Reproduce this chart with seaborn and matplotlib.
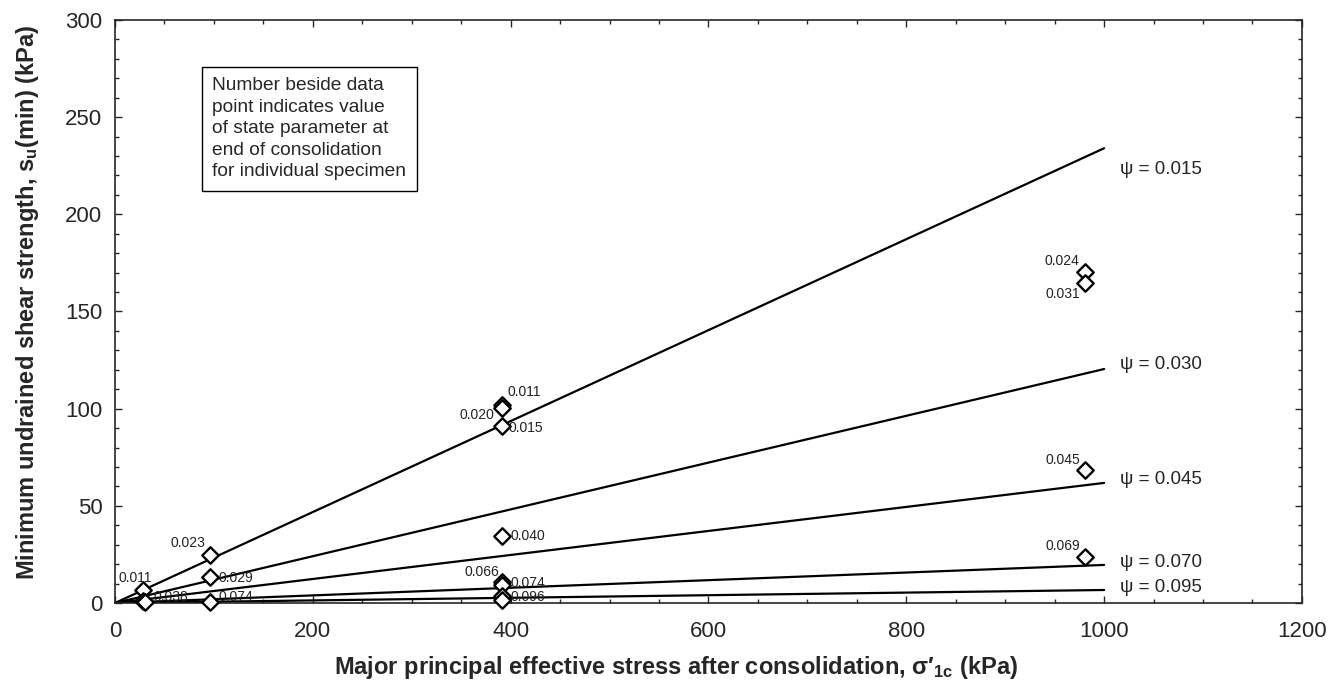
import numpy as np
import pandas as pd
import seaborn as sns
import matplotlib.pyplot as plt
from matplotlib.ticker import MultipleLocator

# trend lines: su(min) at sigma'1c = 0 and 1000 kPa
psi_values = ["0.015", "0.030", "0.045", "0.070", "0.095"]
line_x = [0, 1000]
line_su_end = [234.0, 120.4, 61.8, 19.6, 6.7]
line_label_y = [222.9, 122.5, 63.8, 20.6, 8.2]

# specimens
pt_sigma = [28, 28, 30,
            96, 96, 96,
            391, 391, 391, 391, 391, 391, 391, 391,
            981, 981, 981, 981]
pt_su = [6.5, 1.2, 0.3,
         24.7, 13.5, 0.3,
         102.0, 100.5, 91.0, 34.6, 10.8, 9.5, 3.6, 1.5,
         170.5, 164.7, 68.4, 23.8]
pt_label = ["0.011", "0.038", "",
            "0.023", "0.029", "0.074",
            "0.011", "0.020", "0.015", "0.040", "0.066", "0.074", "0.096", "",
            "0.024", "0.031", "0.045", "0.069"]
# label offsets (points) and alignment
pt_dx = [-5, 8, 0, -3, 6, 6, 4, -5, 5, 6, -2, 6, 6, 0, -4, -4, -4, -4]
pt_dy = [9, 3, 0, 9, -1, 4, 9, -5, -1, 0, 7, 1, -1, 0, 8, -8, 7, 8]
pt_ha = ["center", "left", "left", "right", "left", "left", "left", "right",
         "left", "left", "right", "left", "left", "left",
         "right", "right", "right", "right"]

sns.set_style("ticks")
plt.rcParams["font.family"] = ["Liberation Sans", "DejaVu Sans"]
plt.rcParams["mathtext.fontset"] = "custom"
plt.rcParams["mathtext.rm"] = "Liberation Sans"
plt.rcParams["mathtext.it"] = "Liberation Sans:italic"
plt.rcParams["mathtext.bf"] = "Liberation Sans:bold"

lines = pd.DataFrame({
    "sigma": np.tile(line_x, len(psi_values)),
    "su": np.ravel([[0.0, s] for s in line_su_end]),
    "psi": np.repeat(psi_values, 2),
})
pts = pd.DataFrame({"sigma": pt_sigma, "su": pt_su, "label": pt_label})

fig = plt.figure(figsize=(13.4, 6.84), dpi=100)
ax = fig.add_axes([0.0858, 0.1184, 0.8858, 0.8524])

sns.lineplot(data=lines, x="sigma", y="su", units="psi", estimator=None,
             color="black", linewidth=1.6, ax=ax)
sns.scatterplot(data=pts, x="sigma", y="su", marker="D", s=70,
                facecolor="white", edgecolor="black", linewidth=1.7,
                ax=ax, zorder=3, clip_on=False)

for i, row in pts.iterrows():
    if row["label"]:
        ax.annotate(row["label"], (row["sigma"], row["su"]),
                    xytext=(pt_dx[i], pt_dy[i]), textcoords="offset points",
                    ha=pt_ha[i], va="center", fontsize=10, color="#222222")

for p, y in zip(psi_values, line_label_y):
    ax.text(1016, y, f"ψ = {p}", fontsize=13.5, va="center", ha="left")

ax.text(0.082, 0.902,
        "Number beside data\npoint indicates value\nof state parameter at\n"
        "end of consolidation\nfor individual specimen",
        transform=ax.transAxes, fontsize=13.8, va="top", ha="left",
        linespacing=1.35,
        bbox=dict(boxstyle="square,pad=0.55", facecolor="white",
                  edgecolor="black", linewidth=1.0))

ax.set_xlim(0, 1200)
ax.set_ylim(0, 300)
ax.xaxis.set_major_locator(MultipleLocator(200))
ax.xaxis.set_minor_locator(MultipleLocator(50))
ax.yaxis.set_major_locator(MultipleLocator(50))
ax.yaxis.set_minor_locator(MultipleLocator(10))
ax.tick_params(which="both", direction="in", top=True, right=True,
               labelsize=16, width=1.0)
ax.tick_params(which="major", length=5)
ax.tick_params(which="minor", length=3)
ax.tick_params(axis="x", pad=13)
ax.tick_params(axis="y", pad=9)
for s in ax.spines.values():
    s.set_linewidth(1.2)
    s.set_visible(True)

ax.set_xlabel(r"Major principal effective stress after consolidation, σ′$_{\mathbf{1c}}$ (kPa)",
              fontsize=17, fontweight="bold")
ax.set_ylabel(r"Minimum undrained shear strength, s$_{\mathbf{u}}$(min) (kPa)",
              fontsize=17, fontweight="bold")
ax.xaxis.set_label_coords(0.4726, -0.088)
ax.yaxis.set_label_coords(-0.062, 0.515)

fig.savefig("out.png", dpi=100)
